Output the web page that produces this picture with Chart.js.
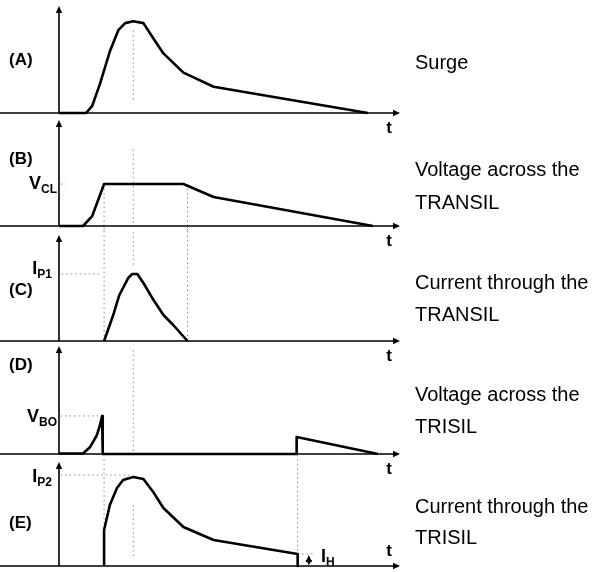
<!DOCTYPE html>
<html>
<head>
<meta charset="utf-8">
<script src="https://cdn.jsdelivr.net/npm/chart.js@4.4.0/dist/chart.umd.min.js"></script>
<style>
  body { margin: 0; background: #fff; }
  #wrap { position: relative; width: 595px; height: 572px; background: #fff; }
  #wrap canvas { position: absolute; left: 0; top: 0; }
</style>
</head>
<body>
<div id="wrap">
  <canvas id="pA" width="595" height="572"></canvas>
  <canvas id="pB" width="595" height="572"></canvas>
  <canvas id="pC" width="595" height="572"></canvas>
  <canvas id="pD" width="595" height="572"></canvas>
  <canvas id="pE" width="595" height="572"></canvas>
</div>
<script>
// time axis in arbitrary units (0..100), amplitude in % of the axis height
const surgeTime  = [0, 8.0, 9.8, 12.1, 15.1, 17.5, 19.5, 21.9, 24.9, 27.8, 30.8, 36.7, 45.6, 91.1];
const surgeLevel = [0, 0, 6.6, 27.4, 58.5, 77.4, 84.0, 85.8, 84.0, 69.8, 55.7, 37.7, 24.5, 0];

const transilVoltTime  = [0, 7.1, 9.8, 13.3, 36.7, 45.6, 92.6];
const transilVoltLevel = [0, 0, 9.4, 39.6, 39.6, 27.4, 0];

const transilCurTime  = [13.3, 16.0, 17.8, 20.4, 21.6, 23.1, 24.9, 27.5, 30.8, 33.7, 37.9];
const transilCurLevel = [0, 24.5, 43.4, 59.4, 63.2, 63.2, 54.7, 40.6, 24.5, 15.1, 0];

const trisilVoltTime  = [0, 7.1, 9.2, 11.2, 12.1, 12.7, 12.9, 70.1, 70.1, 94.1];
const trisilVoltLevel = [0.5, 0.5, 6.5, 17.6, 26.9, 35.2, 0, 0, 15.7, 0];

const trisilCurTime  = [13.3, 13.3, 15.0, 17.1, 18.9, 21.9, 24.9, 27.8, 30.8, 36.7, 45.6, 70.4, 70.4];
const trisilCurLevel = [0, 34.6, 58.7, 75.0, 82.7, 85.6, 83.7, 71.2, 55.8, 37.5, 25.0, 11.5, 0];

// marker times and levels
const tClamp = 13.3, tPeak = 21.9, tClampEnd = 37.9, tHold = 70.4, tHoldMark = 73.7;
const levelVCL = 39.6, levelIP1 = 63.2, levelVBO = 35.2, levelIP2 = 87.5, levelIH = 11.5;

const panelLetters = ['(A)', '(B)', '(C)', '(D)', '(E)'];
const captions = [
  ['Surge'],
  ['Voltage across the', 'TRANSIL'],
  ['Current through the', 'TRANSIL'],
  ['Voltage across the', 'TRISIL'],
  ['Current through the', 'TRISIL']
];

const FONT = '"Liberation Sans", Arial, Helvetica, sans-serif';

function arrow(ctx, x, y, dir) {
  ctx.beginPath();
  if (dir === 'right') { ctx.moveTo(x, y); ctx.lineTo(x - 7, y - 3.2); ctx.lineTo(x - 7, y + 3.2); }
  if (dir === 'up')    { ctx.moveTo(x, y); ctx.lineTo(x - 3.2, y + 7); ctx.lineTo(x + 3.2, y + 7); }
  if (dir === 'down')  { ctx.moveTo(x, y); ctx.lineTo(x - 3.2, y - 5); ctx.lineTo(x + 3.2, y - 5); }
  ctx.closePath();
  ctx.fill();
}

const diagram = {
  id: 'diagram',
  beforeDatasetsDraw(chart, args, o) {
    const { ctx, chartArea } = chart;
    const xs = chart.scales.x, ys = chart.scales.y;
    const X = t => xs.getPixelForValue(t), Y = v => ys.getPixelForValue(v);
    ctx.save();
    // dotted guides
    ctx.strokeStyle = '#8a8a8a';
    ctx.lineWidth = 1;
    ctx.setLineDash([1.5, 3]);
    (o.guides || []).forEach(g => {
      ctx.beginPath();
      ctx.moveTo(X(g[0]), Y(g[1]));
      ctx.lineTo(X(g[2]), Y(g[3]));
      ctx.stroke();
    });
    ctx.setLineDash([]);
    // axes
    const x0 = X(0), yb = Y(0);
    ctx.strokeStyle = '#000';
    ctx.fillStyle = '#000';
    ctx.lineWidth = 1.6;
    ctx.beginPath();
    ctx.moveTo(0, yb); ctx.lineTo(chartArea.right - 2, yb);
    ctx.moveTo(x0, yb); ctx.lineTo(x0, chartArea.top + 4);
    ctx.stroke();
    arrow(ctx, chartArea.right + 2, yb, 'right');
    arrow(ctx, x0, chartArea.top, 'up');
    ctx.restore();
  },
  afterDatasetsDraw(chart, args, o) {
    const { ctx } = chart;
    const xs = chart.scales.x, ys = chart.scales.y;
    const X = t => xs.getPixelForValue(t), Y = v => ys.getPixelForValue(v);
    const yb = Y(0);
    ctx.save();
    ctx.fillStyle = '#000';
    ctx.textBaseline = 'middle';
    // panel letter
    ctx.font = 'bold 17px ' + FONT;
    ctx.textAlign = 'left';
    ctx.fillText(panelLetters[o.index], 9, o.letterY);
    // t label
    ctx.font = 'bold 17px ' + FONT;
    ctx.textAlign = 'center';
    ctx.fillText('t', 389, yb + o.tDy);
    // caption on the right
    ctx.font = '20px ' + FONT;
    ctx.textAlign = 'left';
    captions[o.index].forEach((s, i) => ctx.fillText(s, 415, o.captionY[i]));
    // quantity labels with subscripts
    ctx.textBaseline = 'alphabetic';
    (o.labels || []).forEach(l => {
      ctx.font = 'bold 12px ' + FONT;
      const ws = ctx.measureText(l.sub).width;
      ctx.font = 'bold 18px ' + FONT;
      const wm = ctx.measureText(l.main).width;
      const left = l.left !== undefined ? l.left : l.right - ws - wm;
      const base = Y(l.v) + l.dy;
      ctx.fillText(l.main, left, base);
      ctx.font = 'bold 12px ' + FONT;
      ctx.fillText(l.sub, left + wm, base + 4);
    });
    // holding current marker
    if (o.holdMark) {
      const hx = X(tHoldMark), ht = Y(levelIH), hb = Y(0);
      ctx.strokeStyle = '#000';
      ctx.lineWidth = 1;
      ctx.beginPath();
      ctx.moveTo(hx, ht + 3); ctx.lineTo(hx, hb - 3);
      ctx.stroke();
      arrow(ctx, hx, ht + 1, 'up');
      arrow(ctx, hx, hb - 1, 'down');
    }
    ctx.restore();
  }
};

function makePanel(id, index, times, levels, top, base, extra) {
  const data = times.map((t, i) => ({ x: t, y: levels[i] }));
  return new Chart(document.getElementById(id), {
    type: 'line',
    data: {
      datasets: [{
        data: data,
        borderColor: '#000',
        borderWidth: 2.6,
        pointRadius: 0,
        tension: 0,
        clip: false,
        borderJoinStyle: 'round'
      }]
    },
    options: {
      responsive: false,
      animation: false,
      events: [],
      layout: { padding: { left: 59, right: 197, top: top, bottom: 572 - base } },
      scales: {
        x: { type: 'linear', min: 0, max: 100, display: false },
        y: { type: 'linear', min: 0, max: 100, display: false }
      },
      plugins: {
        legend: { display: false },
        tooltip: { enabled: false },
        diagram: Object.assign({ index: index }, extra)
      }
    },
    plugins: [diagram]
  });
}

makePanel('pA', 0, surgeTime, surgeLevel, 6, 113, {
  letterY: 60, tDy: 15, captionY: [63],
  guides: [[tPeak, 77, tPeak, 11]]
});

makePanel('pB', 1, transilVoltTime, transilVoltLevel, 120, 226, {
  letterY: 159, tDy: 15, captionY: [170, 203],
  guides: [
    [tPeak, 72, tPeak, 0],
    [tClamp, levelVCL, tClamp, -5],
    [tClampEnd, levelVCL, tClampEnd, -5],
    [0.5, levelVCL, 2, levelVCL]
  ],
  labels: [{ main: 'V', sub: 'CL', right: 57, v: levelVCL, dy: 5 }]
});

makePanel('pC', 2, transilCurTime, transilCurLevel, 235, 341, {
  letterY: 290, tDy: 15, captionY: [283, 315],
  guides: [
    [tClamp, 108, tClamp, 0],
    [tClampEnd, 108, tClampEnd, 0],
    [tPeak, 103, tPeak, 70],
    [0.8, levelIP1, 12, levelIP1]
  ],
  labels: [{ main: 'I', sub: 'P1', right: 52, v: levelIP1, dy: 0 }]
});

makePanel('pD', 3, trisilVoltTime, trisilVoltLevel, 346, 454, {
  letterY: 365, tDy: 15, captionY: [395, 427],
  guides: [
    [tPeak, 96, tPeak, -4],
    [0.5, levelVBO, 12.5, levelVBO]
  ],
  labels: [{ main: 'V', sub: 'BO', right: 57, v: levelVBO, dy: 6 }]
});

makePanel('pE', 4, trisilCurTime, trisilCurLevel, 462, 566, {
  letterY: 523, tDy: -15, captionY: [507, 538],
  guides: [
    [tClamp, 107, tClamp, 34.6],
    [tPeak, 58.7, tPeak, 7.7],
    [tHold, 107, tHold, levelIH],
    [0.5, levelIP2, tPeak, levelIP2],
    [tHold, levelIH, 75.5, levelIH]
  ],
  labels: [
    { main: 'I', sub: 'P2', right: 52, v: levelIP2, dy: 7 },
    { main: 'I', sub: 'H', left: 321, v: levelIH, dy: 8 }
  ],
  holdMark: true
});
</script>
</body>
</html>
